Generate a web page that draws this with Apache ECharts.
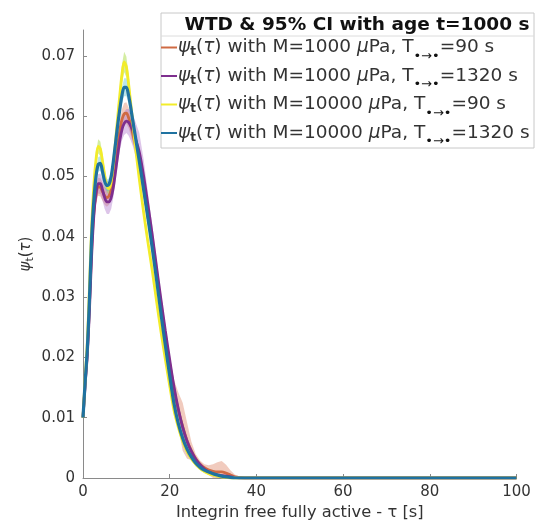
<!DOCTYPE html>
<html>
<head>
<meta charset="utf-8">
<script src="https://cdn.jsdelivr.net/npm/echarts@6/dist/echarts.min.js"></script>
<style>html,body{margin:0;padding:0;background:#fff}#c{width:536px;height:526px}</style>
</head>
<body>
<div id="c"></div>
<script>
// ---- data ----
const tau = [0,0.5,1,1.5,2,2.5,3,3.5,4,4.5,5,5.5,6,6.5,7,7.5,8,8.5,9,9.5,10,10.5,11,11.5,12,
  13,14,15,16,17,18,19,20,21,22,23,24,25,26,27,28,29,30,31,32,33,34,35,36,38,40,50,60,70,80,90,100];

const psiOrange = [0.0100,0.0158,0.0210,0.0290,0.0380,0.0440,0.0470,0.0483,0.0482,0.0475,0.0468,0.0465,0.0468,0.0478,0.0498,0.0525,0.0552,0.0577,0.0595,0.0604,0.0605,0.0598,0.0585,0.0570,0.0555,
  0.0525,0.0480,0.0433,0.0386,0.0336,0.0285,0.0235,0.0188,0.0145,0.0112,0.0085,0.0062,0.0045,0.0032,0.0023,0.0017,0.0013,0.0011,0.0010,0.0010,0.0008,0.0005,0.0002,0.0001,
  0,0,0,0,0,0,0,0];
const ciOrange = [0.0004,0.0006,0.0008,0.0010,0.0012,0.0013,0.0014,0.0015,0.0015,0.0015,0.0015,0.0015,0.0015,0.0015,0.0014,0.0014,0.0015,0.0016,0.0017,0.0018,0.0018,0.0017,0.0016,0.0015,0.0014,
  0.0013,0.0012,0.0011,0.0011,0.0011,0.0012,0.0013,0.0014,0.0018,0.0030,0.0040,0.0030,0.0015,0.0008,0.0006,0.0006,0.0008,0.0012,0.0016,0.0018,0.0014,0.0008,0.0004,0.0002,
  0,0,0,0,0,0,0,0];

const psiPurple = [0.0100,0.0155,0.0205,0.0280,0.0370,0.0435,0.0472,0.0488,0.0488,0.0478,0.0465,0.0458,0.0458,0.0465,0.0482,0.0508,0.0535,0.0560,0.0578,0.0588,0.0592,0.0590,0.0584,0.0576,0.0565,
  0.0540,0.0500,0.0452,0.0402,0.0348,0.0295,0.0244,0.0196,0.0151,0.0114,0.0084,0.0061,0.0044,0.0031,0.0022,0.0015,0.0010,0.0007,0.0005,0.0004,0.0003,0.0002,0.0001,0,
  0,0,0,0,0,0,0,0];
const ciPurple = [0.0004,0.0006,0.0008,0.0010,0.0012,0.0014,0.0015,0.0016,0.0017,0.0018,0.0019,0.0020,0.0020,0.0019,0.0017,0.0016,0.0016,0.0017,0.0018,0.0019,0.0020,0.0022,0.0024,0.0026,0.0028,
  0.0032,0.0028,0.0020,0.0016,0.0014,0.0012,0.0011,0.0010,0.0010,0.0009,0.0008,0.0007,0.0006,0.0005,0.0004,0.0004,0.0003,0.0003,0.0002,0.0002,0.0002,0.0001,0.0001,0.0001,
  0,0,0,0,0,0,0,0];

const psiYellow = [0.0100,0.0165,0.0225,0.0318,0.0418,0.0485,0.0528,0.0550,0.0546,0.0525,0.0502,0.0484,0.0480,0.0492,0.0520,0.0558,0.0598,0.0636,0.0670,0.0690,0.0682,0.0655,0.0622,0.0588,0.0555,
  0.0495,0.0440,0.0390,0.0343,0.0292,0.0242,0.0197,0.0153,0.0112,0.0084,0.0061,0.0044,0.0032,0.0023,0.0016,0.0011,0.0007,0.0005,0.0003,0.0002,0.0001,0,0,0,
  0,0,0,0,0,0,0,0];
const ciYellow = [0.0004,0.0006,0.0008,0.0010,0.0010,0.0010,0.0011,0.0012,0.0012,0.0012,0.0011,0.0010,0.0010,0.0010,0.0011,0.0012,0.0013,0.0014,0.0016,0.0017,0.0017,0.0016,0.0014,0.0012,0.0011,
  0.0010,0.0009,0.0009,0.0008,0.0008,0.0008,0.0007,0.0007,0.0007,0.0006,0.0006,0.0005,0.0004,0.0004,0.0003,0.0003,0.0002,0.0002,0.0002,0.0001,0.0001,0.0001,0,0,
  0,0,0,0,0,0,0,0];

const psiBlue = [0.0100,0.0160,0.0215,0.0300,0.0400,0.0460,0.0500,0.0520,0.0522,0.0508,0.0492,0.0485,0.0487,0.0500,0.0525,0.0555,0.0585,0.0612,0.0635,0.0648,0.0648,0.0635,0.0615,0.0592,0.0570,
  0.0525,0.0478,0.0430,0.0380,0.0327,0.0272,0.0220,0.0170,0.0123,0.0090,0.0066,0.0048,0.0035,0.0025,0.0018,0.0013,0.0010,0.0007,0.0005,0.0003,0.0002,0.0001,0,0,
  0,0,0,0,0,0,0,0];
const ciBlue = [0.0004,0.0006,0.0008,0.0009,0.0010,0.0010,0.0010,0.0012,0.0012,0.0012,0.0011,0.0010,0.0010,0.0010,0.0010,0.0011,0.0012,0.0013,0.0014,0.0015,0.0015,0.0014,0.0013,0.0012,0.0011,
  0.0010,0.0010,0.0009,0.0009,0.0009,0.0008,0.0008,0.0008,0.0008,0.0008,0.0007,0.0006,0.0005,0.0004,0.0004,0.0003,0.0003,0.0002,0.0002,0.0002,0.0001,0.0001,0.0001,0.0001,
  0,0,0,0,0,0,0,0];

const legendM = ['1000','1000','10000','10000'];
const legendT = ['90','1320','90','1320'];
const xTicks = [0,20,40,60,80,100];
const yTicks = [0,0.01,0.02,0.03,0.04,0.05,0.06,0.07];
const titleText = 'WTD & 95% CI with age t=1000 s';
const xName = 'Integrin free fully active - τ [s]';

// ---- chart ----
const FONT = 'DejaVu Sans';
const TXT = '#333333';
const lineColors = ['#CF6A43','#7E2F8E','#F2EC2A','#1F72A0'];
const bandColors = ['rgba(225,140,110,0.45)','rgba(170,110,200,0.40)','rgba(170,220,70,0.50)','rgba(80,190,205,0.40)'];
const psis = [psiOrange, psiPurple, psiYellow, psiBlue];
const cis = [ciOrange, ciPurple, ciYellow, ciBlue];
const names = legendM.map((m,i)=>'ψt(τ) with M=' + m + ' μPa, T=' + legendT[i] + ' s');

const series = [];
psis.forEach((p,i)=>{
  const rows = tau.map((x,k)=>[x, Math.max(0, p[k]-cis[i][k]), p[k]+cis[i][k]]);
  series.push({type:'custom', name:'band'+i, data:rows, silent:true, z:1, clip:true,
    encode:{x:0, y:[1,2]},
    renderItem:(params, api)=>{
      if (params.dataIndex !== 0) return null;
      const up = [], dn = [];
      for (let k = 0; k < rows.length; k++) {
        up.push(api.coord([rows[k][0], rows[k][2]]));
        dn.unshift(api.coord([rows[k][0], rows[k][1]]));
      }
      return {type:'polygon', shape:{points: up.concat(dn)}, style:{fill:bandColors[i], stroke:null}};
    }});
});
psis.forEach((p,i)=>{
  series.push({type:'line', name:names[i], data:tau.map((x,k)=>[x,p[k]]), symbol:'none', smooth:0.3,
    lineStyle:{color:lineColors[i], width:i===3?3.2:2.8}, itemStyle:{color:lineColors[i]}, z:3+i});
});

const chart = echarts.init(document.getElementById('c'), null, {renderer:'canvas'});
chart.setOption({
  animation:false,
  backgroundColor:'#ffffff',
  grid:{left:83, right:19.5, top:30, bottom:43, containLabel:false},
  xAxis:{type:'value', min:0, max:100, interval:20,
    name: xName, nameLocation:'middle', nameGap:27,
    nameTextStyle:{fontFamily:FONT, fontSize:16.3, color:TXT},
    axisLine:{lineStyle:{color:'#8a8a8a', width:1}},
    axisTick:{inside:true, length:4, lineStyle:{color:'#8a8a8a'}, customValues:xTicks},
    axisLabel:{fontFamily:FONT, fontSize:15, color:TXT, margin:7, customValues:xTicks},
    splitLine:{show:false}},
  yAxis:{type:'value', min:0, max:0.0743,
    name:'{g|ψ}{s|t}{n|(}{g|τ}{n|)}', nameLocation:'middle', nameGap:47, nameRotate:90,
    nameMoveOverlap:false,
    nameTextStyle:{fontFamily:FONT, fontSize:15, color:TXT,
      rich:{g:{fontFamily:FONT,fontSize:15,fontStyle:'italic',color:TXT},
            n:{fontFamily:FONT,fontSize:15,color:TXT},
            s:{fontFamily:FONT,fontSize:11,color:TXT,padding:[8,0,0,0]}}},
    axisLine:{show:true, lineStyle:{color:'#8a8a8a', width:1}},
    axisTick:{show:true, inside:true, length:4, lineStyle:{color:'#8a8a8a'}, customValues:yTicks},
    axisLabel:{fontFamily:FONT, fontSize:15, color:TXT, margin:8, customValues:yTicks,
      formatter:v=> v===0 ? '0' : v.toFixed(2)},
    splitLine:{show:false}},
  legend:{show:true, orient:'vertical', left:161, top:38, itemGap:3.5, itemWidth:16, itemHeight:10,
    padding:0, z:10, data:names, icon:'path://M0,4 L16,4 L16,6 L0,6 Z',
    formatter:(n)=>{const i=names.indexOf(n);
      return '{g|ψ}{s|t}{n|(}{g|τ}{n|) with M=' + legendM[i] + ' }{g|μ}{n|Pa, T}{a|•→•}{n|=' + legendT[i] + ' s}';},
    textStyle:{fontFamily:FONT, fontSize:18.5, color:TXT, padding:[0,0,0,-4],
      rich:{g:{fontFamily:FONT,fontSize:18.5,fontStyle:'italic',color:TXT},
            n:{fontFamily:FONT,fontSize:18.5,color:TXT},
            s:{fontFamily:FONT,fontSize:12,fontWeight:'bold',color:TXT,padding:[9,0,0,0]},
            a:{fontFamily:FONT,fontSize:13,color:'#111',padding:[18,0,0,0]}}}},
  graphic:[
    {type:'rect', z:8, shape:{x:161, y:13, width:373, height:135},
      style:{fill:'#ffffff', stroke:'#c8c8c8', lineWidth:1}},
    {type:'line', z:9, shape:{x1:161, y1:36, x2:534, y2:36}, style:{stroke:'#dcdcdc', lineWidth:1}},
    {type:'text', z:9, x:357, y:25, style:{text:titleText, fontFamily:FONT, fontSize:18.5, fontWeight:'bold',
      fill:'#111', align:'center', verticalAlign:'middle'}}
  ],
  series:series
});
</script>
</body>
</html>
